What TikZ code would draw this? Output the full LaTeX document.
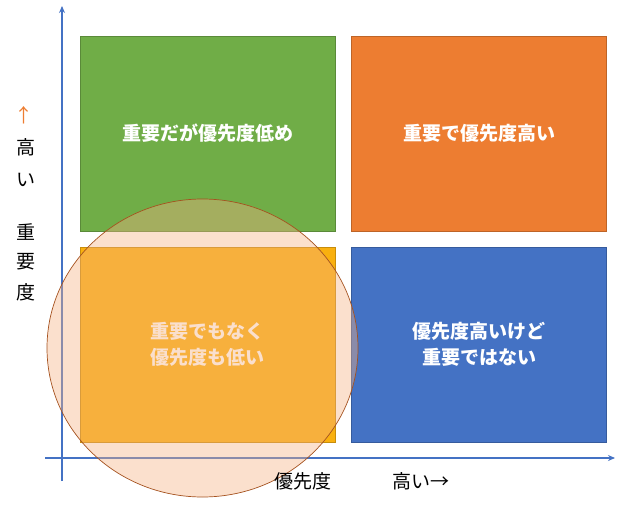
\documentclass[tikz,border=0pt]{standalone}
\usepackage{fontspec}
\newfontfamily\jp{Noto Sans CJK JP}
\usetikzlibrary{arrows.meta,shapes.geometric}
\definecolor{cgreen}{HTML}{70AD47}
\definecolor{corange}{HTML}{ED7D31}
\definecolor{cyellow}{HTML}{F9B00F}
\definecolor{cblue}{HTML}{4472C4}
\definecolor{axisblue}{HTML}{4472C4}
\definecolor{peach}{HTML}{F4B183}
\definecolor{cedge}{HTML}{A5521F}
\tikzset{
 quad/.style={minimum width=255pt,minimum height=195pt,inner sep=0pt,draw=#1!80!black,fill=#1,line width=0.6pt,
   text=white,font=\jp\bfseries\fontsize{19pt}{26pt}\selectfont,align=center},
 axis/.style={draw=axisblue,line width=1.3pt,-{Stealth[length=7pt,width=6pt]}},
 lbl/.style={font=\jp\fontsize{19pt}{24pt}\selectfont,inner sep=0pt}
}
\begin{document}
\begin{tikzpicture}[x=1pt,y=-1pt]
\useasboundingbox (0,0) rectangle (623,511);
\node[quad=cgreen] (gl) at (207.5,133.5) {重要だが優先度低め};
\node[quad=corange] (oh) at (479,133.5) {重要で優先度高い};
\node[quad=cyellow] (yl) at (207.5,344.5) {重要でもなく\\優先度も低い};
\node[quad=cblue] (bh) at (479,344.5) {優先度高いけど\\重要ではない};
\coordinate (yb) at (62,481);
\coordinate (yt) at (62,6);
\coordinate (xl) at (45,458);
\coordinate (xr) at (615,458);
\draw[axis] (yb) -- (yt);
\draw[axis] (xl) -- (xr);
\node[fill=peach,fill opacity=0.4,draw=cedge,line width=0.7pt,ellipse,minimum width=311pt,minimum height=298pt] (c) at (202.5,348) {};
\node[lbl,text=corange] (ar) at (24,115) {↑};
\node[lbl] (k1) at (26,147) {高};
\node[lbl] (k2) at (26,180) {い};
\node[lbl] (k3) at (26,232) {重};
\node[lbl] (k4) at (26,262) {要};
\node[lbl] (k5) at (26,292) {度};
\node[lbl] (xp) at (303,481) {優先度};
\node[lbl] (xh) at (421,481) {高い→};
\end{tikzpicture}
\end{document}
